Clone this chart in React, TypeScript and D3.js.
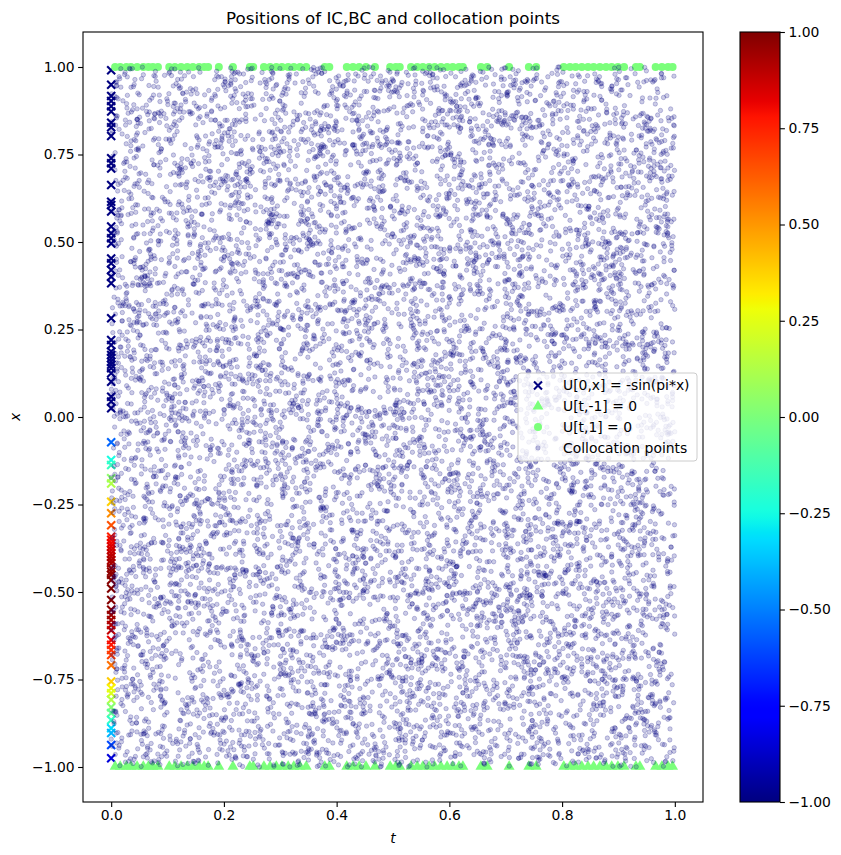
import React, { useEffect, useRef } from "react";
import * as d3 from "d3";

const width = 841;
const height = 855;

// initial condition points, x positions along t = 0
const icX = [
  0.991, 0.949, 0.917, 0.903, 0.888, 0.873, 0.841, 0.828, 0.803, 0.739, 0.725,
  0.71, 0.663, 0.615, 0.606, 0.587, 0.544, 0.525, 0.511, 0.496, 0.453, 0.439,
  0.42, 0.401, 0.382, 0.282, 0.22, 0.206, 0.187, 0.177, 0.168, 0.158, 0.149,
  0.139, 0.125, 0.101, 0.058, 0.044, 0.025, -0.072, -0.123, -0.137, -0.175,
  -0.19, -0.242, -0.275, -0.309, -0.342, -0.351, -0.361, -0.37, -0.38, -0.39,
  -0.399, -0.409, -0.418, -0.432, -0.442, -0.451, -0.466, -0.49, -0.523,
  -0.551, -0.566, -0.58, -0.594, -0.609, -0.637, -0.651, -0.666, -0.68, -0.709,
  -0.756, -0.775, -0.789, -0.808, -0.829, -0.846, -0.866, -0.889, -0.903,
  -0.937, -0.975,
];

// boundary points, t positions (same times on x = -1 and x = 1)
const bcT = [
  0.007, 0.016, 0.027, 0.035, 0.046, 0.057, 0.066, 0.074, 0.083, 0.103, 0.113,
  0.124, 0.135, 0.145, 0.156, 0.165, 0.172, 0.191, 0.216, 0.246, 0.252, 0.271,
  0.282, 0.293, 0.303, 0.314, 0.324, 0.335, 0.346, 0.379, 0.387, 0.418, 0.429,
  0.44, 0.452, 0.468, 0.495, 0.505, 0.512, 0.532, 0.543, 0.553, 0.564, 0.574,
  0.585, 0.596, 0.606, 0.617, 0.624, 0.656, 0.667, 0.706, 0.741, 0.754, 0.803,
  0.814, 0.824, 0.835, 0.846, 0.856, 0.867, 0.878, 0.888, 0.899, 0.91, 0.931,
  0.938, 0.966, 0.977, 0.988, 0.996,
];

const xTicks = [0, 0.2, 0.4, 0.6, 0.8, 1.0];
const yTicks = [-1, -0.75, -0.5, -0.25, 0, 0.25, 0.5, 0.75, 1];
const cbTicks = [-1, -0.75, -0.5, -0.25, 0, 0.25, 0.5, 0.75, 1];

const legendLabels = [
  "U[0,x] = -sin(pi*x)",
  "U[t,-1] = 0",
  "U[t,1] = 0",
  "Collocation points",
];

// collocation cloud: N_f points, fixed-seed uniform sample over the domain
const nCollocation = 10000;
const collocationSeed = 0.1234;

// matplotlib "jet"
const jetR = d3.scaleLinear([0, 0.35, 0.66, 0.89, 1], [0, 0, 1, 1, 0.5]).clamp(true);
const jetG = d3.scaleLinear([0, 0.125, 0.375, 0.64, 0.91, 1], [0, 0, 1, 1, 0, 0]).clamp(true);
const jetB = d3.scaleLinear([0, 0.11, 0.34, 0.65, 1], [0.5, 1, 1, 0, 0]).clamp(true);
const jet = (v: number) =>
  d3.rgb(255 * jetR(v), 255 * jetG(v), 255 * jetB(v)).formatHex();

const font = "DejaVu Sans, sans-serif";

export default function App() {
  const ref = useRef<SVGSVGElement>(null);

  useEffect(() => {
    const svg = d3.select(ref.current);
    svg.selectAll("*").remove();

    const left = 83, right = 703, top = 32, bottom = 802;
    const x = d3.scaleLinear().domain([-0.05, 1.05]).range([left, right]);
    const y = d3.scaleLinear().domain([-1.1, 1.1]).range([bottom, top]);

    const defs = svg.append("defs");
    defs.append("clipPath").attr("id", "plot-clip")
      .append("rect")
      .attr("x", left).attr("y", top)
      .attr("width", right - left).attr("height", bottom - top);

    const plot = svg.append("g").attr("clip-path", "url(#plot-clip)");

    // IC: x markers coloured by -sin(pi*x)
    const icColor = (v: number) => jet(Math.max(0, Math.min(1, -Math.sin(Math.PI * v))));
    const xs = 4;
    const cross = (cx: number, cy: number) =>
      `M${cx - xs},${cy - xs}L${cx + xs},${cy + xs}M${cx - xs},${cy + xs}L${cx + xs},${cy - xs}`;
    plot.append("g")
      .selectAll("path")
      .data(icX)
      .join("path")
      .attr("d", (d) => cross(x(0), y(d)))
      .attr("stroke", (d) => icColor(d))
      .attr("stroke-width", 2.1)
      .attr("fill", "none");

    const bcColor = jet(0.5);
    const tri = d3.symbol(d3.symbolTriangle, 52);
    const dotR = 4;

    // BC at x = -1: triangles
    plot.append("g")
      .selectAll("path")
      .data(bcT)
      .join("path")
      .attr("d", tri)
      .attr("transform", (d) => `translate(${x(d)},${y(-1) - 0.5})`)
      .attr("fill", bcColor);

    // BC at x = 1: circles
    plot.append("g")
      .selectAll("circle")
      .data(bcT)
      .join("circle")
      .attr("cx", (d) => x(d))
      .attr("cy", y(1))
      .attr("r", dotR)
      .attr("fill", bcColor);

    // collocation points
    const rng = d3.randomLcg(collocationSeed);
    const uT = d3.randomUniform.source(rng)(0, 1);
    const uX = d3.randomUniform.source(rng)(-1, 1);
    const collocation = d3.range(nCollocation).map(() => [uT(), uX()]);
    plot.append("g")
      .selectAll("circle")
      .data(collocation)
      .join("circle")
      .attr("cx", (d) => x(d[0]))
      .attr("cy", (d) => y(d[1]))
      .attr("r", 2.2)
      .attr("fill", "#000080")
      .attr("fill-opacity", 0.2)
      .attr("stroke", "#000080")
      .attr("stroke-opacity", 0.22)
      .attr("stroke-width", 1);

    // axes
    const xAxis = svg.append("g")
      .attr("transform", `translate(0,${bottom})`)
      .call(
        d3.axisBottom(x).tickValues(xTicks).tickFormat(d3.format(".1f"))
          .tickSize(4.9).tickPadding(3.5).tickSizeOuter(0)
      );
    const yAxis = svg.append("g")
      .attr("transform", `translate(${left},0)`)
      .call(
        d3.axisLeft(y).tickValues(yTicks).tickFormat(d3.format(".2f"))
          .tickSize(4.9).tickPadding(3.5).tickSizeOuter(0)
      );
    [xAxis, yAxis].forEach((g) => {
      g.select(".domain").remove();
      g.attr("font-family", font).attr("font-size", 13.9);
      g.selectAll("line").attr("stroke-width", 1.1);
      g.selectAll("text").attr("fill", "#000");
    });

    svg.append("rect")
      .attr("x", left).attr("y", top)
      .attr("width", right - left).attr("height", bottom - top)
      .attr("fill", "none").attr("stroke", "#000").attr("stroke-width", 1.1);

    // title and axis labels
    svg.append("text")
      .attr("x", (left + right) / 2).attr("y", 24)
      .attr("text-anchor", "middle")
      .attr("font-family", font).attr("font-size", 16.7)
      .text("Positions of IC,BC and collocation points");
    svg.append("text")
      .attr("x", (left + right) / 2).attr("y", 843)
      .attr("text-anchor", "middle")
      .attr("font-family", font).attr("font-size", 13.9)
      .attr("font-style", "italic")
      .text("t");
    svg.append("text")
      .attr("transform", `translate(20,${(top + bottom) / 2}) rotate(-90)`)
      .attr("text-anchor", "middle")
      .attr("font-family", font).attr("font-size", 13.9)
      .attr("font-style", "italic")
      .text("x");

    // legend
    const lgLeft = 518, lgRight = 697, lgTop = 373, lgBottom = 461;
    const lg = svg.append("g");
    lg.append("rect")
      .attr("x", lgLeft).attr("y", lgTop)
      .attr("width", lgRight - lgLeft).attr("height", lgBottom - lgTop)
      .attr("rx", 3)
      .attr("fill", "#fff").attr("fill-opacity", 0.8)
      .attr("stroke", "#cccccc").attr("stroke-width", 1);
    const rowY = (i: number) => 385.5 + i * 20.8;
    const mx = 538;
    lg.append("path")
      .attr("d", cross(mx, rowY(0)))
      .attr("stroke", "#000080").attr("stroke-width", 2.1);
    lg.append("path").attr("d", tri)
      .attr("transform", `translate(${mx},${rowY(1)})`)
      .attr("fill", bcColor);
    lg.append("circle").attr("cx", mx).attr("cy", rowY(2)).attr("r", dotR)
      .attr("fill", bcColor);
    lg.append("circle").attr("cx", mx).attr("cy", rowY(3)).attr("r", 2.2)
      .attr("fill", "#000080").attr("fill-opacity", 0.2)
      .attr("stroke", "#000080").attr("stroke-opacity", 0.22).attr("stroke-width", 1);
    lg.selectAll("text.lbl")
      .data(legendLabels)
      .join("text")
      .attr("class", "lbl")
      .attr("x", 563)
      .attr("y", (_, i) => rowY(i))
      .attr("dy", "0.35em")
      .attr("font-family", font).attr("font-size", 13.9)
      .text((d) => d);

    // colorbar
    const cbLeft = 740, cbRight = 780;
    const cb = d3.scaleLinear().domain([-1, 1]).range([bottom, top]);
    const grad = defs.append("linearGradient")
      .attr("id", "jet-grad")
      .attr("x1", 0).attr("y1", 0).attr("x2", 0).attr("y2", 1);
    d3.range(0, 1.0001, 0.01).forEach((o) => {
      grad.append("stop").attr("offset", o).attr("stop-color", jet(1 - o));
    });
    svg.append("rect")
      .attr("x", cbLeft).attr("y", top)
      .attr("width", cbRight - cbLeft).attr("height", bottom - top)
      .attr("fill", "url(#jet-grad)")
      .attr("stroke", "#000").attr("stroke-width", 1.1);
    const cbAxis = svg.append("g")
      .attr("transform", `translate(${cbRight},0)`)
      .call(
        d3.axisRight(cb).tickValues(cbTicks).tickFormat(d3.format(".2f"))
          .tickSize(4.9).tickPadding(3.5).tickSizeOuter(0)
      );
    cbAxis.select(".domain").remove();
    cbAxis.attr("font-family", font).attr("font-size", 13.9);
    cbAxis.selectAll("line").attr("stroke-width", 1.1);
    cbAxis.selectAll("text").attr("fill", "#000");
  }, []);

  return (
    <svg
      ref={ref}
      width={width}
      height={height}
      style={{ position: "absolute", left: 0, top: 0, background: "#fff" }}
    />
  );
}
